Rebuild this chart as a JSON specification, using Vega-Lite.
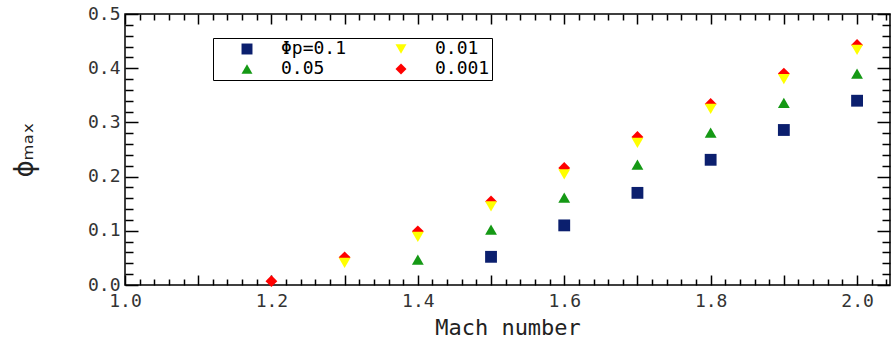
{
  "$schema": "https://vega.github.io/schema/vega-lite/v6.json",
  "width": 765,
  "height": 271,
  "autosize": {"type": "none"},
  "padding": {"left": 125, "top": 14, "right": 2, "bottom": 53},
  "config": {
    "view": {"stroke": "black", "strokeWidth": 1.5},
    "axis": {"domain": false, "grid": false, "tickColor": "black", "tickWidth": 1.5, "zindex": 1, "labelFont": "DejaVu Sans Mono", "labelColor": "#333333", "titleColor": "#222222"}
  },
  "data": {
    "values": [
      {"mach": 1.5, "phi": 0.052, "series": "Φp=0.1"},
      {"mach": 1.6, "phi": 0.110, "series": "Φp=0.1"},
      {"mach": 1.7, "phi": 0.170, "series": "Φp=0.1"},
      {"mach": 1.8, "phi": 0.231, "series": "Φp=0.1"},
      {"mach": 1.9, "phi": 0.286, "series": "Φp=0.1"},
      {"mach": 2.0, "phi": 0.340, "series": "Φp=0.1"},
      {"mach": 1.4, "phi": 0.047, "series": "0.05"},
      {"mach": 1.5, "phi": 0.102, "series": "0.05"},
      {"mach": 1.6, "phi": 0.161, "series": "0.05"},
      {"mach": 1.7, "phi": 0.222, "series": "0.05"},
      {"mach": 1.8, "phi": 0.281, "series": "0.05"},
      {"mach": 1.9, "phi": 0.336, "series": "0.05"},
      {"mach": 2.0, "phi": 0.390, "series": "0.05"},
      {"mach": 1.3, "phi": 0.041, "series": "0.01"},
      {"mach": 1.4, "phi": 0.089, "series": "0.01"},
      {"mach": 1.5, "phi": 0.145, "series": "0.01"},
      {"mach": 1.6, "phi": 0.204, "series": "0.01"},
      {"mach": 1.7, "phi": 0.262, "series": "0.01"},
      {"mach": 1.8, "phi": 0.325, "series": "0.01"},
      {"mach": 1.9, "phi": 0.380, "series": "0.01"},
      {"mach": 2.0, "phi": 0.434, "series": "0.01"},
      {"mach": 1.2, "phi": 0.007, "series": "0.001"},
      {"mach": 1.3, "phi": 0.051, "series": "0.001"},
      {"mach": 1.4, "phi": 0.099, "series": "0.001"},
      {"mach": 1.5, "phi": 0.154, "series": "0.001"},
      {"mach": 1.6, "phi": 0.216, "series": "0.001"},
      {"mach": 1.7, "phi": 0.273, "series": "0.001"},
      {"mach": 1.8, "phi": 0.334, "series": "0.001"},
      {"mach": 1.9, "phi": 0.390, "series": "0.001"},
      {"mach": 2.0, "phi": 0.443, "series": "0.001"}
    ]
  },
  "layer": [
    {
      "mark": {"type": "point", "filled": true, "opacity": 1, "size": 140},
      "encoding": {
        "x": {"field": "mach", "type": "quantitative", "scale": {"domain": [1, 2.045], "nice": false, "zero": false},
          "axis": {"orient": "bottom", "tickCount": 100,
            "values": [1.0, 1.02, 1.04, 1.06, 1.08, 1.1, 1.12, 1.14, 1.16, 1.18, 1.2, 1.22, 1.24, 1.26, 1.28, 1.3, 1.32, 1.34, 1.36, 1.38, 1.4, 1.42, 1.44, 1.46, 1.48, 1.5, 1.52, 1.54, 1.56, 1.58, 1.6, 1.62, 1.64, 1.66, 1.68, 1.7, 1.72, 1.74, 1.76, 1.78, 1.8, 1.82, 1.84, 1.86, 1.88, 1.9, 1.92, 1.94, 1.96, 1.98, 2.0, 2.02, 2.04],
            "labelExpr": "abs(datum.value*5 - round(datum.value*5)) < 0.001 ? format(datum.value, '.1f') : ''",
            "tickSize": {"condition": {"test": "abs(datum.value*10 - round(datum.value*10)) < 0.001", "value": -10}, "value": -6},
            "labelPadding": 17, "labelFontSize": 18, "labelOverlap": false, "labelFlush": false,
            "title": "Mach number", "titleFont": "DejaVu Sans Mono", "titleFontSize": 22, "titleFontWeight": "normal", "titlePadding": 3}},
        "y": {"field": "phi", "type": "quantitative", "scale": {"domain": [0, 0.5], "nice": false, "zero": true},
          "axis": {"orient": "left", "tickCount": 100,
            "values": [0, 0.02, 0.04, 0.06, 0.08, 0.1, 0.12, 0.14, 0.16, 0.18, 0.2, 0.22, 0.24, 0.26, 0.28, 0.3, 0.32, 0.34, 0.36, 0.38, 0.4, 0.42, 0.44, 0.46, 0.48, 0.5],
            "labelExpr": "abs(datum.value*10 - round(datum.value*10)) < 0.001 ? format(datum.value, '.1f') : ''",
            "tickSize": {"condition": {"test": "abs(datum.value*10 - round(datum.value*10)) < 0.001", "value": -13}, "value": -8},
            "labelPadding": 18, "labelFontSize": 18, "labelOverlap": false, "labelFlush": false,
            "title": "ϕₘₐₓ", "titleFont": "DejaVu Sans", "titleFontSize": 26, "titleFontWeight": "normal", "titlePadding": 50}},
        "color": {"field": "series", "type": "nominal",
          "scale": {"domain": ["Φp=0.1", "0.05", "0.01", "0.001"], "range": ["#0b1f6e", "#159915", "#ffff00", "#ff0000"]},
          "legend": {"orient": "none", "legendX": 88, "legendY": 24, "columns": 2, "title": null, "strokeColor": "black", "fillColor": "white", "padding": 2, "symbolOffset": 23, "symbolSize": 120, "labelFont": "DejaVu Sans Mono", "labelFontSize": 18, "labelColor": "black", "labelOffset": 25, "columnPadding": 22, "rowPadding": 2,
            "labelExpr": "datum.label == '0.05' ? '\u00a0\u00a00.05' : datum.label"}},
        "shape": {"field": "series", "type": "nominal",
          "scale": {"domain": ["Φp=0.1", "0.05", "0.01", "0.001"], "range": ["square", "triangle-up", "triangle-down", "diamond"]}},
        "order": {"field": "series", "sort": "ascending"}
      }
    },
    {
      "mark": {"type": "point", "opacity": 0},
      "encoding": {
        "x": {"field": "mach", "type": "quantitative", "scale": {"domain": [1, 2.045], "nice": false, "zero": false},
          "axis": {"orient": "top", "tickCount": 100, "labels": false, "title": null,
            "values": [1.0, 1.02, 1.04, 1.06, 1.08, 1.1, 1.12, 1.14, 1.16, 1.18, 1.2, 1.22, 1.24, 1.26, 1.28, 1.3, 1.32, 1.34, 1.36, 1.38, 1.4, 1.42, 1.44, 1.46, 1.48, 1.5, 1.52, 1.54, 1.56, 1.58, 1.6, 1.62, 1.64, 1.66, 1.68, 1.7, 1.72, 1.74, 1.76, 1.78, 1.8, 1.82, 1.84, 1.86, 1.88, 1.9, 1.92, 1.94, 1.96, 1.98, 2.0, 2.02, 2.04],
            "tickSize": {"condition": {"test": "abs(datum.value*10 - round(datum.value*10)) < 0.001", "value": -10}, "value": -6}}},
        "y": {"field": "phi", "type": "quantitative", "scale": {"domain": [0, 0.5], "nice": false, "zero": true},
          "axis": {"orient": "right", "tickCount": 100, "labels": false, "title": null,
            "values": [0, 0.02, 0.04, 0.06, 0.08, 0.1, 0.12, 0.14, 0.16, 0.18, 0.2, 0.22, 0.24, 0.26, 0.28, 0.3, 0.32, 0.34, 0.36, 0.38, 0.4, 0.42, 0.44, 0.46, 0.48, 0.5],
            "tickSize": {"condition": {"test": "abs(datum.value*10 - round(datum.value*10)) < 0.001", "value": -13}, "value": -8}}}
      }
    }
  ],
  "resolve": {"axis": {"x": "independent", "y": "independent"}}
}
